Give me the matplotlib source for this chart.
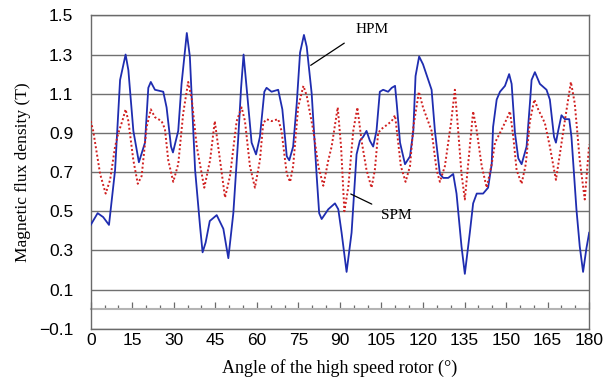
import matplotlib
matplotlib.use("Agg")
import matplotlib.pyplot as plt
from matplotlib.ticker import MultipleLocator

# angle (deg) / flux density (T)
hpm_angle = [0, 2.5, 4.5, 6.6, 8.8, 10.6, 12.6, 13.6, 15.4, 17.4, 19.6, 20.8, 21.7,
             23.2, 26.2, 27.4, 29.0, 29.7, 31.6, 32.8, 34.7, 35.8, 37.7, 39.5, 40.4,
             41.5, 43.0, 45.5, 47.9, 49.7, 51.5, 53.3, 54.3, 55.2, 56.3, 58.1, 59.7,
             61.1, 62.7, 63.5, 65.3, 67.7, 69.2, 70.8, 71.7, 73.1, 74.4, 75.6, 77.0,
             78.0, 79.8, 81.6, 82.5, 83.4, 85.8, 88.2, 89.4, 90.6, 92.4, 94.2, 96.0,
             97.2, 98.4, 99.6, 100.8, 102.0, 103.2, 104.4, 105.6, 107.4, 108.7, 109.9,
             110.5, 111.7, 113.5, 115.3, 116.5, 117.3, 118.6, 120.0, 123.1, 124.3,
             126.1, 127.3, 129.1, 130.9, 132.1, 133.9, 135.1, 136.9, 138.1, 139.4,
             141.7, 143.5, 144.8, 145.3, 146.6, 147.8, 149.6, 151.1, 152.0, 153.2,
             154.4, 155.6, 157.4, 158.6, 159.2, 160.4, 162.2, 164.6, 165.8, 167.3,
             168.0, 168.8, 170.0, 171.2, 172.8, 173.6, 175.4, 176.6, 177.8, 179.0, 180.0]
hpm_flux = [0.43, 0.49, 0.47, 0.43, 0.71, 1.17, 1.30, 1.22, 0.91, 0.75, 0.85, 1.13, 1.16,
            1.12, 1.11, 1.03, 0.83, 0.80, 0.91, 1.15, 1.41, 1.29, 0.71, 0.42, 0.29,
            0.34, 0.45, 0.48, 0.41, 0.26, 0.49, 0.88, 1.13, 1.30, 1.13, 0.85, 0.79,
            0.88, 1.11, 1.13, 1.11, 1.12, 1.02, 0.78, 0.76, 0.83, 1.05, 1.31, 1.40,
            1.34, 1.10, 0.68, 0.49, 0.46, 0.51, 0.54, 0.51, 0.39, 0.19, 0.39, 0.79,
            0.86, 0.88, 0.91, 0.86, 0.83, 0.91, 1.11, 1.12, 1.11, 1.13, 1.14,
            1.05, 0.85, 0.74, 0.78, 0.91, 1.19, 1.29, 1.25, 1.12, 0.91,
            0.69, 0.67, 0.67, 0.69, 0.59, 0.32, 0.18, 0.39, 0.54, 0.59,
            0.59, 0.62, 0.74, 0.93, 1.07, 1.11, 1.14, 1.20, 1.15, 0.90,
            0.77, 0.74, 0.83, 1.05, 1.17, 1.21, 1.15, 1.12, 1.07, 0.88,
            0.85, 0.91, 0.99, 0.97, 0.97, 0.88, 0.51, 0.32, 0.19, 0.31, 0.39]

spm_angle = [0, 0.9, 3.4, 5.4, 7.0, 8.8, 10.0, 11.4, 12.6, 13.6, 15.4, 17.0, 18.4, 20.2,
             21.7, 23.2, 25.6, 26.8, 28.0, 29.8, 31.6, 33.4, 35.2, 36.5, 38.3, 41.0,
             43.1, 44.8, 46.7, 48.5, 50.3, 52.7, 54.5, 55.7, 57.5, 59.3, 61.1, 62.3,
             63.5, 65.3, 67.7, 68.9, 70.8, 72.0, 73.1, 74.9, 76.8, 78.0, 80.4, 82.2,
             84.0, 85.8, 87.0, 89.2, 90.4, 91.6, 93.0, 94.8, 96.3, 97.8, 99.6, 101.4,
             102.6, 103.8, 105.0, 106.9, 108.7, 109.9, 110.8, 112.0, 113.7, 115.3,
             116.5, 118.5, 120.0, 123.1, 124.9, 126.1, 127.9, 130.1, 131.5, 132.7,
             133.9, 135.1, 136.3, 138.1, 139.4, 141.2, 143.0, 144.8, 146.0, 147.8,
             150.2, 151.4, 152.6, 153.8, 155.6, 157.1, 158.6, 160.2, 161.6, 164.0,
             165.8, 168.0, 169.4, 171.2, 173.4, 174.8, 176.6, 178.4, 180.0]
spm_flux = [0.96, 0.91, 0.69, 0.59, 0.66, 0.83, 0.90, 0.96, 1.02, 0.96, 0.76, 0.64, 0.68, 0.93,
            1.02, 0.98, 0.96, 0.92, 0.76, 0.65, 0.74, 1.00, 1.16, 1.07, 0.83, 0.62,
            0.76, 0.96, 0.76, 0.57, 0.68, 0.96, 1.03, 0.96, 0.73, 0.62, 0.76, 0.95,
            0.97, 0.96, 0.97, 0.91, 0.69, 0.65, 0.73, 1.03, 1.14, 1.09, 0.91, 0.73,
            0.63, 0.76, 0.83, 1.03, 0.83, 0.50, 0.62, 0.91, 1.03, 0.86, 0.71, 0.62,
            0.71, 0.90, 0.92, 0.94, 0.96, 0.99, 0.88, 0.73, 0.65, 0.73,
            0.93, 1.11, 1.03, 0.91, 0.71, 0.65, 0.73, 0.95, 1.12, 0.91,
            0.69, 0.56, 0.74, 1.01, 0.91, 0.73, 0.62, 0.74, 0.85, 0.90,
            0.97, 1.01, 0.88, 0.71, 0.64, 0.74, 0.96, 1.07, 1.02, 0.95,
            0.83, 0.66, 0.79, 0.96, 1.16, 1.05, 0.76, 0.56, 0.84]

serif = "Liberation Serif"
sans = "Liberation Sans"

fig = plt.figure(figsize=(6.15, 3.84), dpi=100)
ax = fig.add_axes([0.1475, 0.144, 0.8105, 0.816])

ax.plot(hpm_angle, hpm_flux, color="#1f2db0", lw=1.3, zorder=3)
ax.plot(spm_angle, spm_flux, color="#d02020", lw=1.4, ls=(0, (1, 1.2)), zorder=3)

ax.set_xlim(0, 180)
ax.set_ylim(-0.1, 1.5)
ax.xaxis.set_major_locator(MultipleLocator(15))
ax.set_yticks([-0.1, 0.1, 0.3, 0.5, 0.7, 0.9, 1.1, 1.3, 1.5])
ax.set_yticklabels(["\u22120.1", "0.1", "0.3", "0.5", "0.7", "0.9", "1.1", "1.3", "1.5"])
ax.grid(axis="y", color="#707070", lw=1.0, zorder=1)
ax.tick_params(axis="both", length=0, labelsize=12.5)
ax.tick_params(axis="y", pad=12.5)
ax.tick_params(axis="x", pad=3)
for lab in ax.get_xticklabels() + ax.get_yticklabels():
  lab.set_fontfamily(sans)
for s in ax.spines.values():
  s.set_color("#6a6a6a")
  s.set_linewidth(1.0)

# zero line with small upward ticks (Excel-style category axis)
sec = ax.secondary_xaxis(0.1 / 1.6)
sec.spines["bottom"].set_color("#b4b4b4")
sec.spines["bottom"].set_linewidth(1.5)
sec.xaxis.set_major_locator(MultipleLocator(15))
sec.xaxis.set_minor_locator(MultipleLocator(5))
sec.tick_params(which="both", direction="in", color="#6a6a6a", labelbottom=False, width=0.9)
sec.tick_params(which="major", length=5)
sec.tick_params(which="minor", length=3)

ax.set_xlabel("Angle of the high speed rotor (\u00b0)", family=serif, fontsize=13, labelpad=8)
ax.set_ylabel("Magnetic flux density (T)", family=serif, fontsize=12.5, labelpad=6)

ax.annotate("", xy=(78.6, 1.237), xytext=(92.4, 1.366),
            arrowprops=dict(arrowstyle="-", color="black", lw=0.9))
ax.text(101.5, 1.43, "HPM", family=serif, fontsize=11, ha="center", va="center")
ax.annotate("", xy=(93.0, 0.594), xytext=(102.4, 0.53),
            arrowprops=dict(arrowstyle="-", color="black", lw=0.9))
ax.text(110.2, 0.476, "SPM", family=serif, fontsize=11, ha="center", va="center")

fig.savefig("out.png", dpi=100)
